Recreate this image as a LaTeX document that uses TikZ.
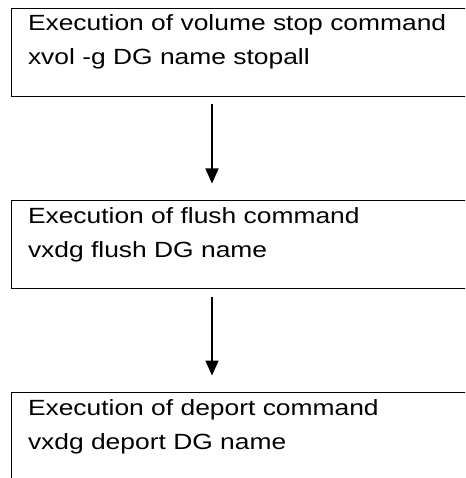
\documentclass[tikz,border=0pt]{standalone}
\usepackage{fontspec}
\setmainfont[FakeStretch=1.2]{Liberation Sans}
\usetikzlibrary{arrows.meta,positioning}

\begin{document}
\begin{tikzpicture}[
  x=1pt, y=-1pt, node distance=104pt,
  s/.style={draw, line width=1.8pt, anchor=north west, outer sep=0pt,
    inner xsep=16.5pt, inner ysep=0pt, text width=440pt, align=left,
    text height=22.5pt, text depth=65.5pt, font=\fontsize{22}{34}\selectfont},
  pf/.style={line width=1.6pt, -{Triangle[length=15pt, width=13pt]},
    shorten <=8pt, shorten >=17pt}
]
\path[use as bounding box, clip] (0,0) rectangle (465,478);
\node[s] (stop) at (11.5,8.5) {Execution of volume stop command\\xvol -g DG name stopall};
\node[s, below=of stop] (flush) {Execution of flush command\\vxdg flush DG name};
\node[s, below=of flush] (deport) {Execution of deport command\\vxdg deport DG name};

\draw[pf] ([xshift=200.5pt]stop.south west) -- ([xshift=200.5pt]flush.north west);
\draw[pf] ([xshift=200.5pt]flush.south west) -- ([xshift=200.5pt]deport.north west);
\end{tikzpicture}
\end{document}
